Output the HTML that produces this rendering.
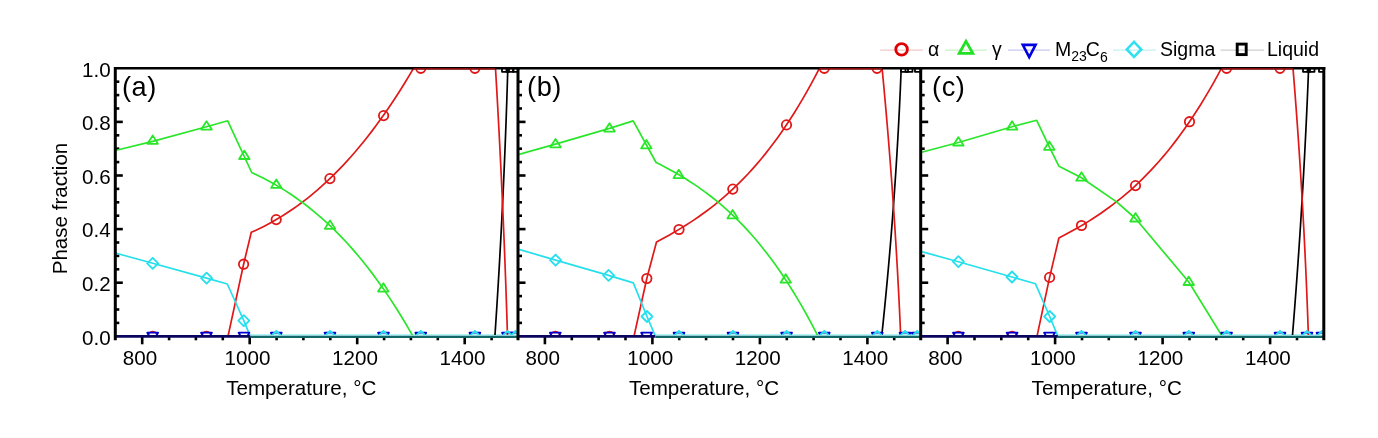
<!DOCTYPE html><html><head><meta charset="utf-8"><title>Phase fraction</title><style>html,body{margin:0;padding:0;background:#fff;width:1378px;height:438px;overflow:hidden}svg{display:block;filter:blur(0.3px)}text{font-family:"Liberation Sans",sans-serif;fill:#000}</style></head><body>
<svg width="1378" height="438" viewBox="0 0 1378 438">
<rect width="1378" height="438" fill="#fff"/>
<defs>
<clipPath id="cpa"><rect x="115.3" y="68.3" width="403.1" height="266.7"/></clipPath>
<clipPath id="cpb"><rect x="518.0" y="68.3" width="403.1" height="266.7"/></clipPath>
<clipPath id="cpc"><rect x="920.7" y="68.3" width="403.1" height="266.7"/></clipPath>
</defs>
<line x1="142.2" y1="336.3" x2="142.2" y2="344.3" stroke="#000" stroke-width="2.6"/>
<line x1="169.1" y1="336.3" x2="169.1" y2="340.3" stroke="#000" stroke-width="2.6"/>
<line x1="195.9" y1="336.3" x2="195.9" y2="340.3" stroke="#000" stroke-width="2.6"/>
<line x1="222.8" y1="336.3" x2="222.8" y2="340.3" stroke="#000" stroke-width="2.6"/>
<line x1="249.7" y1="336.3" x2="249.7" y2="344.3" stroke="#000" stroke-width="2.6"/>
<line x1="276.6" y1="336.3" x2="276.6" y2="340.3" stroke="#000" stroke-width="2.6"/>
<line x1="303.4" y1="336.3" x2="303.4" y2="340.3" stroke="#000" stroke-width="2.6"/>
<line x1="330.3" y1="336.3" x2="330.3" y2="340.3" stroke="#000" stroke-width="2.6"/>
<line x1="357.2" y1="336.3" x2="357.2" y2="344.3" stroke="#000" stroke-width="2.6"/>
<line x1="384.1" y1="336.3" x2="384.1" y2="340.3" stroke="#000" stroke-width="2.6"/>
<line x1="410.9" y1="336.3" x2="410.9" y2="340.3" stroke="#000" stroke-width="2.6"/>
<line x1="437.8" y1="336.3" x2="437.8" y2="340.3" stroke="#000" stroke-width="2.6"/>
<line x1="464.7" y1="336.3" x2="464.7" y2="344.3" stroke="#000" stroke-width="2.6"/>
<line x1="491.6" y1="336.3" x2="491.6" y2="340.3" stroke="#000" stroke-width="2.6"/>
<line x1="115.3" y1="322.9" x2="119.3" y2="322.9" stroke="#000" stroke-width="2.6"/>
<line x1="115.3" y1="309.5" x2="119.3" y2="309.5" stroke="#000" stroke-width="2.6"/>
<line x1="115.3" y1="296.1" x2="119.3" y2="296.1" stroke="#000" stroke-width="2.6"/>
<line x1="115.3" y1="282.7" x2="122.8" y2="282.7" stroke="#000" stroke-width="2.6"/>
<line x1="115.3" y1="269.3" x2="119.3" y2="269.3" stroke="#000" stroke-width="2.6"/>
<line x1="115.3" y1="255.9" x2="119.3" y2="255.9" stroke="#000" stroke-width="2.6"/>
<line x1="115.3" y1="242.5" x2="119.3" y2="242.5" stroke="#000" stroke-width="2.6"/>
<line x1="115.3" y1="229.1" x2="122.8" y2="229.1" stroke="#000" stroke-width="2.6"/>
<line x1="115.3" y1="215.7" x2="119.3" y2="215.7" stroke="#000" stroke-width="2.6"/>
<line x1="115.3" y1="202.3" x2="119.3" y2="202.3" stroke="#000" stroke-width="2.6"/>
<line x1="115.3" y1="188.9" x2="119.3" y2="188.9" stroke="#000" stroke-width="2.6"/>
<line x1="115.3" y1="175.5" x2="122.8" y2="175.5" stroke="#000" stroke-width="2.6"/>
<line x1="115.3" y1="162.1" x2="119.3" y2="162.1" stroke="#000" stroke-width="2.6"/>
<line x1="115.3" y1="148.7" x2="119.3" y2="148.7" stroke="#000" stroke-width="2.6"/>
<line x1="115.3" y1="135.3" x2="119.3" y2="135.3" stroke="#000" stroke-width="2.6"/>
<line x1="115.3" y1="121.9" x2="122.8" y2="121.9" stroke="#000" stroke-width="2.6"/>
<line x1="115.3" y1="108.5" x2="119.3" y2="108.5" stroke="#000" stroke-width="2.6"/>
<line x1="115.3" y1="95.1" x2="119.3" y2="95.1" stroke="#000" stroke-width="2.6"/>
<line x1="115.3" y1="81.7" x2="119.3" y2="81.7" stroke="#000" stroke-width="2.6"/>
<line x1="115.3" y1="336.3" x2="250.3" y2="336.3" stroke="#0a0660" stroke-width="2.8"/>
<line x1="250.3" y1="336.7" x2="518.4" y2="336.7" stroke="#126868" stroke-width="2.4"/>
<line x1="250.3" y1="334.8" x2="518.4" y2="334.8" stroke="#9aeef2" stroke-width="1.3"/>
<g clip-path="url(#cpa)" fill="none" stroke-linejoin="round">
<polyline points="100.00,336.30 494.90,336.30 495.36,329.43 495.81,322.56 496.26,315.68 496.70,308.81 497.13,301.94 497.56,295.07 497.98,288.20 498.39,281.33 498.80,274.45 499.20,267.58 499.59,260.71 499.97,253.84 500.35,246.97 500.72,240.09 501.09,233.22 501.45,226.35 501.80,219.48 502.14,212.61 502.48,205.74 502.81,198.86 503.14,191.99 503.45,185.12 503.76,178.25 504.07,171.38 504.36,164.51 504.65,157.63 504.94,150.76 505.21,143.89 505.48,137.02 505.74,130.15 506.00,123.27 506.25,116.40 506.49,109.53 506.73,102.66 506.95,95.79 507.18,88.92 507.39,82.04 507.60,75.17 507.80,68.30 520.00,68.30" stroke="#000000" stroke-width="1.7" fill="none"/>
<polyline points="100.00,336.30 228.00,336.30 243.60,264.20 251.30,232.30 255.46,230.43 259.62,228.46 263.78,226.40 267.94,224.23 272.09,221.97 276.25,219.59 280.41,217.11 284.57,214.52 288.73,211.82 292.89,209.01 297.05,206.08 301.21,203.03 305.37,199.87 309.53,196.58 313.68,193.16 317.84,189.62 322.00,185.96 326.16,182.16 330.32,178.22 334.48,174.16 338.64,169.95 342.80,165.61 346.96,161.12 351.12,156.49 355.27,151.71 359.43,146.79 363.59,141.72 367.75,136.49 371.91,131.11 376.07,125.57 380.23,119.87 384.39,114.01 388.55,107.99 392.71,101.80 396.86,95.44 401.02,88.92 405.18,82.22 409.34,75.35 413.50,68.30 495.50,68.30 495.90,75.17 496.30,82.04 496.70,88.92 497.09,95.79 497.47,102.66 497.85,109.53 498.22,116.40 498.59,123.27 498.96,130.15 499.32,137.02 499.67,143.89 500.02,150.76 500.36,157.63 500.70,164.51 501.03,171.38 501.36,178.25 501.68,185.12 502.00,191.99 502.31,198.86 502.62,205.74 502.92,212.61 503.22,219.48 503.51,226.35 503.80,233.22 504.08,240.09 504.36,246.97 504.63,253.84 504.90,260.71 505.16,267.58 505.42,274.45 505.67,281.33 505.92,288.20 506.16,295.07 506.39,301.94 506.63,308.81 506.85,315.68 507.07,322.56 507.29,329.43 507.50,336.30 520.00,336.30" stroke="#e01818" stroke-width="1.7" fill="none"/>
<polyline points="100.00,154.00 115.30,150.50 152.70,141.30 206.50,126.80 227.70,120.80 251.70,172.50 255.84,174.44 259.97,176.46 264.11,178.56 268.24,180.74 272.38,183.02 276.52,185.38 280.65,187.84 284.79,190.40 288.92,193.06 293.06,195.83 297.19,198.70 301.33,201.68 305.47,204.78 309.60,208.00 313.74,211.34 317.87,214.80 322.01,218.39 326.15,222.11 330.28,225.96 334.42,229.96 338.55,234.09 342.69,238.37 346.83,242.79 350.96,247.37 355.10,252.10 359.23,256.98 363.37,262.03 367.51,267.24 371.64,272.62 375.78,278.17 379.91,283.89 384.05,289.79 388.18,295.86 392.32,302.13 396.46,308.57 400.59,315.21 404.73,322.04 408.86,329.07 413.00,336.30 520.00,336.30" stroke="#2ae62a" stroke-width="1.7" fill="none"/>
<polyline points="100.00,250.00 115.30,253.00 152.70,263.30 206.60,278.10 227.30,284.00 235.00,301.00 243.80,320.60 250.30,336.30 520.00,336.30" stroke="#26dfec" stroke-width="1.7" fill="none"/>
<rect x="502.0" y="64.8" width="7" height="7" fill="none" stroke="#000000" stroke-width="1.8"/>
<rect x="506.5" y="64.8" width="7" height="7" fill="none" stroke="#000000" stroke-width="1.8"/>
<rect x="513.0" y="64.8" width="7" height="7" fill="none" stroke="#000000" stroke-width="1.8"/>
<circle cx="243.6" cy="264.2" r="4.7" fill="none" stroke="#e01818" stroke-width="1.8"/>
<circle cx="276.2" cy="219.6" r="4.7" fill="none" stroke="#e01818" stroke-width="1.8"/>
<circle cx="329.9" cy="178.6" r="4.7" fill="none" stroke="#e01818" stroke-width="1.8"/>
<circle cx="383.6" cy="115.6" r="4.7" fill="none" stroke="#e01818" stroke-width="1.8"/>
<circle cx="420.8" cy="68.3" r="4.7" fill="none" stroke="#e01818" stroke-width="1.8"/>
<circle cx="474.9" cy="68.3" r="4.7" fill="none" stroke="#e01818" stroke-width="1.8"/>
<circle cx="152.7" cy="336.3" r="4.7" fill="none" stroke="#e01818" stroke-width="1.8"/>
<circle cx="206.5" cy="336.3" r="4.7" fill="none" stroke="#e01818" stroke-width="1.8"/>
<polygon points="152.7,135.4 147.4,143.8 157.9,143.8" fill="none" stroke="#2ae62a" stroke-width="1.8"/>
<polygon points="206.5,121.2 201.2,129.6 211.8,129.6" fill="none" stroke="#2ae62a" stroke-width="1.8"/>
<polygon points="244.3,150.6 239.1,159.0 249.6,159.0" fill="none" stroke="#2ae62a" stroke-width="1.8"/>
<polygon points="276.3,179.5 271.1,187.9 281.6,187.9" fill="none" stroke="#2ae62a" stroke-width="1.8"/>
<polygon points="330.0,220.4 324.8,228.8 335.2,228.8" fill="none" stroke="#2ae62a" stroke-width="1.8"/>
<polygon points="383.4,283.2 378.1,291.6 388.6,291.6" fill="none" stroke="#2ae62a" stroke-width="1.8"/>
<polygon points="147.3,332.7 158.1,332.7 152.7,341.7" fill="none" stroke="#0000d0" stroke-width="1.8"/>
<polygon points="201.1,332.7 211.9,332.7 206.5,341.7" fill="none" stroke="#0000d0" stroke-width="1.8"/>
<polygon points="238.6,332.7 249.4,332.7 244.0,341.7" fill="none" stroke="#0000d0" stroke-width="1.8"/>
<polygon points="270.9,332.7 281.7,332.7 276.3,341.7" fill="none" stroke="#0000d0" stroke-width="1.8"/>
<polygon points="324.6,332.7 335.4,332.7 330.0,341.7" fill="none" stroke="#0000d0" stroke-width="1.8"/>
<polygon points="378.1,332.7 388.9,332.7 383.5,341.7" fill="none" stroke="#0000d0" stroke-width="1.8"/>
<polygon points="415.4,332.7 426.2,332.7 420.8,341.7" fill="none" stroke="#0000d0" stroke-width="1.8"/>
<polygon points="469.5,332.7 480.3,332.7 474.9,341.7" fill="none" stroke="#0000d0" stroke-width="1.8"/>
<polygon points="502.1,332.7 512.9,332.7 507.5,341.7" fill="none" stroke="#0000d0" stroke-width="1.8"/>
<polygon points="510.2,332.7 521.0,332.7 515.6,341.7" fill="none" stroke="#0000d0" stroke-width="1.8"/>
<polygon points="152.7,257.8 158.2,263.3 152.7,268.8 147.2,263.3" fill="none" stroke="#26dfec" stroke-width="1.8"/>
<polygon points="206.6,272.6 212.1,278.1 206.6,283.6 201.1,278.1" fill="none" stroke="#26dfec" stroke-width="1.8"/>
<polygon points="243.8,315.1 249.3,320.6 243.8,326.1 238.3,320.6" fill="none" stroke="#26dfec" stroke-width="1.8"/>
<polygon points="276.3,330.8 281.8,336.3 276.3,341.8 270.8,336.3" fill="none" stroke="#26dfec" stroke-width="1.8"/>
<polygon points="330.0,330.8 335.5,336.3 330.0,341.8 324.5,336.3" fill="none" stroke="#26dfec" stroke-width="1.8"/>
<polygon points="383.5,330.8 389.0,336.3 383.5,341.8 378.0,336.3" fill="none" stroke="#26dfec" stroke-width="1.8"/>
<polygon points="420.8,330.8 426.3,336.3 420.8,341.8 415.3,336.3" fill="none" stroke="#26dfec" stroke-width="1.8"/>
<polygon points="474.9,330.8 480.4,336.3 474.9,341.8 469.4,336.3" fill="none" stroke="#26dfec" stroke-width="1.8"/>
<polygon points="507.5,330.8 513.0,336.3 507.5,341.8 502.0,336.3" fill="none" stroke="#26dfec" stroke-width="1.8"/>
<polygon points="515.6,330.8 521.1,336.3 515.6,341.8 510.1,336.3" fill="none" stroke="#26dfec" stroke-width="1.8"/>
</g>
<line x1="115.3" y1="67.1" x2="115.3" y2="340.3" stroke="#000" stroke-width="3"/>
<line x1="115.3" y1="68.3" x2="519.9" y2="68.3" stroke="#000" stroke-width="2.5"/>
<line x1="413.5" y1="68.89999999999999" x2="495.5" y2="68.89999999999999" stroke="#b81212" stroke-width="1.4"/>
<text x="140.0" y="365.2" font-size="20.6" text-anchor="middle">800</text>
<text x="247.5" y="365.2" font-size="20.6" text-anchor="middle">1000</text>
<text x="355.0" y="365.2" font-size="20.6" text-anchor="middle">1200</text>
<text x="462.5" y="365.2" font-size="20.6" text-anchor="middle">1400</text>
<text x="301.3" y="394.5" font-size="20.6" text-anchor="middle">Temperature, °C</text>
<text x="122.0" y="96" font-size="27.2" letter-spacing="0.5">(a)</text>
<line x1="544.9" y1="336.3" x2="544.9" y2="344.3" stroke="#000" stroke-width="2.6"/>
<line x1="571.8" y1="336.3" x2="571.8" y2="340.3" stroke="#000" stroke-width="2.6"/>
<line x1="598.6" y1="336.3" x2="598.6" y2="340.3" stroke="#000" stroke-width="2.6"/>
<line x1="625.5" y1="336.3" x2="625.5" y2="340.3" stroke="#000" stroke-width="2.6"/>
<line x1="652.4" y1="336.3" x2="652.4" y2="344.3" stroke="#000" stroke-width="2.6"/>
<line x1="679.2" y1="336.3" x2="679.2" y2="340.3" stroke="#000" stroke-width="2.6"/>
<line x1="706.1" y1="336.3" x2="706.1" y2="340.3" stroke="#000" stroke-width="2.6"/>
<line x1="733.0" y1="336.3" x2="733.0" y2="340.3" stroke="#000" stroke-width="2.6"/>
<line x1="759.9" y1="336.3" x2="759.9" y2="344.3" stroke="#000" stroke-width="2.6"/>
<line x1="786.8" y1="336.3" x2="786.8" y2="340.3" stroke="#000" stroke-width="2.6"/>
<line x1="813.6" y1="336.3" x2="813.6" y2="340.3" stroke="#000" stroke-width="2.6"/>
<line x1="840.5" y1="336.3" x2="840.5" y2="340.3" stroke="#000" stroke-width="2.6"/>
<line x1="867.4" y1="336.3" x2="867.4" y2="344.3" stroke="#000" stroke-width="2.6"/>
<line x1="894.2" y1="336.3" x2="894.2" y2="340.3" stroke="#000" stroke-width="2.6"/>
<line x1="518.0" y1="322.9" x2="522.0" y2="322.9" stroke="#000" stroke-width="2.6"/>
<line x1="518.0" y1="309.5" x2="522.0" y2="309.5" stroke="#000" stroke-width="2.6"/>
<line x1="518.0" y1="296.1" x2="522.0" y2="296.1" stroke="#000" stroke-width="2.6"/>
<line x1="518.0" y1="282.7" x2="525.5" y2="282.7" stroke="#000" stroke-width="2.6"/>
<line x1="518.0" y1="269.3" x2="522.0" y2="269.3" stroke="#000" stroke-width="2.6"/>
<line x1="518.0" y1="255.9" x2="522.0" y2="255.9" stroke="#000" stroke-width="2.6"/>
<line x1="518.0" y1="242.5" x2="522.0" y2="242.5" stroke="#000" stroke-width="2.6"/>
<line x1="518.0" y1="229.1" x2="525.5" y2="229.1" stroke="#000" stroke-width="2.6"/>
<line x1="518.0" y1="215.7" x2="522.0" y2="215.7" stroke="#000" stroke-width="2.6"/>
<line x1="518.0" y1="202.3" x2="522.0" y2="202.3" stroke="#000" stroke-width="2.6"/>
<line x1="518.0" y1="188.9" x2="522.0" y2="188.9" stroke="#000" stroke-width="2.6"/>
<line x1="518.0" y1="175.5" x2="525.5" y2="175.5" stroke="#000" stroke-width="2.6"/>
<line x1="518.0" y1="162.1" x2="522.0" y2="162.1" stroke="#000" stroke-width="2.6"/>
<line x1="518.0" y1="148.7" x2="522.0" y2="148.7" stroke="#000" stroke-width="2.6"/>
<line x1="518.0" y1="135.3" x2="522.0" y2="135.3" stroke="#000" stroke-width="2.6"/>
<line x1="518.0" y1="121.9" x2="525.5" y2="121.9" stroke="#000" stroke-width="2.6"/>
<line x1="518.0" y1="108.5" x2="522.0" y2="108.5" stroke="#000" stroke-width="2.6"/>
<line x1="518.0" y1="95.1" x2="522.0" y2="95.1" stroke="#000" stroke-width="2.6"/>
<line x1="518.0" y1="81.7" x2="522.0" y2="81.7" stroke="#000" stroke-width="2.6"/>
<line x1="518.0" y1="336.3" x2="655.4" y2="336.3" stroke="#0a0660" stroke-width="2.8"/>
<line x1="655.4" y1="336.7" x2="921.1" y2="336.7" stroke="#126868" stroke-width="2.4"/>
<line x1="655.4" y1="334.8" x2="921.1" y2="334.8" stroke="#9aeef2" stroke-width="1.3"/>
<g clip-path="url(#cpb)" fill="none" stroke-linejoin="round">
<polyline points="500.00,336.30 881.70,336.30 882.42,329.43 883.14,322.56 883.84,315.68 884.53,308.81 885.20,301.94 885.87,295.07 886.52,288.20 887.17,281.33 887.80,274.45 888.41,267.58 889.02,260.71 889.61,253.84 890.20,246.97 890.77,240.09 891.33,233.22 891.87,226.35 892.41,219.48 892.93,212.61 893.45,205.74 893.95,198.86 894.43,191.99 894.91,185.12 895.37,178.25 895.83,171.38 896.27,164.51 896.70,157.63 897.11,150.76 897.52,143.89 897.91,137.02 898.30,130.15 898.67,123.27 899.02,116.40 899.37,109.53 899.70,102.66 900.03,95.79 900.34,88.92 900.64,82.04 900.92,75.17 901.20,68.30 930.00,68.30" stroke="#000000" stroke-width="1.7" fill="none"/>
<polyline points="500.00,336.30 634.00,336.30 646.80,278.50 656.50,242.00 660.68,239.78 664.85,237.51 669.03,235.19 673.21,232.81 677.38,230.37 681.56,227.86 685.74,225.27 689.92,222.60 694.09,219.84 698.27,216.99 702.45,214.05 706.62,210.99 710.80,207.83 714.98,204.55 719.15,201.16 723.33,197.63 727.51,193.97 731.68,190.17 735.86,186.23 740.04,182.14 744.22,177.89 748.39,173.49 752.57,168.91 756.75,164.16 760.92,159.23 765.10,154.12 769.28,148.82 773.45,143.33 777.63,137.63 781.81,131.72 785.98,125.60 790.16,119.26 794.34,112.70 798.52,105.91 802.69,98.88 806.87,91.61 811.05,84.10 815.22,76.33 819.40,68.30 882.10,68.30 882.75,75.17 883.40,82.04 884.04,88.92 884.66,95.79 885.28,102.66 885.89,109.53 886.49,116.40 887.08,123.27 887.66,130.15 888.23,137.02 888.79,143.89 889.34,150.76 889.88,157.63 890.41,164.51 890.94,171.38 891.45,178.25 891.96,185.12 892.45,191.99 892.94,198.86 893.42,205.74 893.88,212.61 894.34,219.48 894.79,226.35 895.23,233.22 895.66,240.09 896.08,246.97 896.49,253.84 896.89,260.71 897.29,267.58 897.67,274.45 898.04,281.33 898.41,288.20 898.76,295.07 899.11,301.94 899.45,308.81 899.77,315.68 900.09,322.56 900.40,329.43 900.70,336.30 930.00,336.30" stroke="#e01818" stroke-width="1.7" fill="none"/>
<polyline points="500.00,160.00 518.00,154.70 555.50,144.10 609.50,128.40 633.20,120.90 656.10,162.50 660.25,164.60 664.40,166.75 668.55,168.96 672.71,171.25 676.86,173.60 681.01,176.04 685.16,178.56 689.31,181.16 693.46,183.87 697.61,186.67 701.76,189.58 705.92,192.60 710.07,195.74 714.22,199.00 718.37,202.39 722.52,205.91 726.67,209.57 730.82,213.38 734.97,217.33 739.13,221.44 743.28,225.71 747.43,230.15 751.58,234.76 755.73,239.54 759.88,244.51 764.03,249.67 768.18,255.02 772.34,260.57 776.49,266.32 780.64,272.28 784.79,278.46 788.94,284.86 793.09,291.49 797.24,298.34 801.39,305.44 805.55,312.78 809.70,320.36 813.85,328.20 818.00,336.30 930.00,336.30" stroke="#2ae62a" stroke-width="1.7" fill="none"/>
<polyline points="500.00,245.00 518.00,249.10 555.60,260.10 608.60,275.40 633.30,282.90 647.00,316.50 655.40,336.30 930.00,336.30" stroke="#26dfec" stroke-width="1.7" fill="none"/>
<rect x="901.0" y="64.8" width="7" height="7" fill="none" stroke="#000000" stroke-width="1.8"/>
<rect x="905.5" y="64.8" width="7" height="7" fill="none" stroke="#000000" stroke-width="1.8"/>
<rect x="915.0" y="64.8" width="7" height="7" fill="none" stroke="#000000" stroke-width="1.8"/>
<circle cx="646.8" cy="278.5" r="4.7" fill="none" stroke="#e01818" stroke-width="1.8"/>
<circle cx="679.0" cy="229.5" r="4.7" fill="none" stroke="#e01818" stroke-width="1.8"/>
<circle cx="732.8" cy="189.1" r="4.7" fill="none" stroke="#e01818" stroke-width="1.8"/>
<circle cx="786.5" cy="124.9" r="4.7" fill="none" stroke="#e01818" stroke-width="1.8"/>
<circle cx="824.3" cy="68.3" r="4.7" fill="none" stroke="#e01818" stroke-width="1.8"/>
<circle cx="877.0" cy="68.3" r="4.7" fill="none" stroke="#e01818" stroke-width="1.8"/>
<circle cx="555.3" cy="336.3" r="4.7" fill="none" stroke="#e01818" stroke-width="1.8"/>
<circle cx="609.5" cy="336.3" r="4.7" fill="none" stroke="#e01818" stroke-width="1.8"/>
<polygon points="555.5,138.9 550.2,147.3 560.8,147.3" fill="none" stroke="#2ae62a" stroke-width="1.8"/>
<polygon points="609.5,123.2 604.2,131.6 614.8,131.6" fill="none" stroke="#2ae62a" stroke-width="1.8"/>
<polygon points="646.4,140.0 641.1,148.4 651.6,148.4" fill="none" stroke="#2ae62a" stroke-width="1.8"/>
<polygon points="678.8,169.7 673.5,178.1 684.0,178.1" fill="none" stroke="#2ae62a" stroke-width="1.8"/>
<polygon points="732.6,210.0 727.4,218.4 737.9,218.4" fill="none" stroke="#2ae62a" stroke-width="1.8"/>
<polygon points="785.7,274.3 780.5,282.7 791.0,282.7" fill="none" stroke="#2ae62a" stroke-width="1.8"/>
<polygon points="549.9,332.7 560.7,332.7 555.3,341.7" fill="none" stroke="#0000d0" stroke-width="1.8"/>
<polygon points="604.1,332.7 614.9,332.7 609.5,341.7" fill="none" stroke="#0000d0" stroke-width="1.8"/>
<polygon points="641.2,332.7 652.0,332.7 646.6,341.7" fill="none" stroke="#0000d0" stroke-width="1.8"/>
<polygon points="673.6,332.7 684.4,332.7 679.0,341.7" fill="none" stroke="#0000d0" stroke-width="1.8"/>
<polygon points="727.6,332.7 738.4,332.7 733.0,341.7" fill="none" stroke="#0000d0" stroke-width="1.8"/>
<polygon points="781.2,332.7 792.0,332.7 786.6,341.7" fill="none" stroke="#0000d0" stroke-width="1.8"/>
<polygon points="818.9,332.7 829.7,332.7 824.3,341.7" fill="none" stroke="#0000d0" stroke-width="1.8"/>
<polygon points="871.9,332.7 882.7,332.7 877.3,341.7" fill="none" stroke="#0000d0" stroke-width="1.8"/>
<polygon points="899.6,332.7 910.4,332.7 905.0,341.7" fill="none" stroke="#0000d0" stroke-width="1.8"/>
<polygon points="911.8,332.7 922.6,332.7 917.2,341.7" fill="none" stroke="#0000d0" stroke-width="1.8"/>
<polygon points="555.6,254.6 561.1,260.1 555.6,265.6 550.1,260.1" fill="none" stroke="#26dfec" stroke-width="1.8"/>
<polygon points="608.6,269.9 614.1,275.4 608.6,280.9 603.1,275.4" fill="none" stroke="#26dfec" stroke-width="1.8"/>
<polygon points="647.0,311.0 652.5,316.5 647.0,322.0 641.5,316.5" fill="none" stroke="#26dfec" stroke-width="1.8"/>
<polygon points="679.0,330.8 684.5,336.3 679.0,341.8 673.5,336.3" fill="none" stroke="#26dfec" stroke-width="1.8"/>
<polygon points="733.0,330.8 738.5,336.3 733.0,341.8 727.5,336.3" fill="none" stroke="#26dfec" stroke-width="1.8"/>
<polygon points="786.6,330.8 792.1,336.3 786.6,341.8 781.1,336.3" fill="none" stroke="#26dfec" stroke-width="1.8"/>
<polygon points="824.3,330.8 829.8,336.3 824.3,341.8 818.8,336.3" fill="none" stroke="#26dfec" stroke-width="1.8"/>
<polygon points="877.3,330.8 882.8,336.3 877.3,341.8 871.8,336.3" fill="none" stroke="#26dfec" stroke-width="1.8"/>
<polygon points="905.0,330.8 910.5,336.3 905.0,341.8 899.5,336.3" fill="none" stroke="#26dfec" stroke-width="1.8"/>
<polygon points="917.2,330.8 922.7,336.3 917.2,341.8 911.7,336.3" fill="none" stroke="#26dfec" stroke-width="1.8"/>
</g>
<line x1="518.0" y1="67.1" x2="518.0" y2="340.3" stroke="#000" stroke-width="3"/>
<line x1="518.0" y1="68.3" x2="922.6" y2="68.3" stroke="#000" stroke-width="2.5"/>
<line x1="819.4" y1="68.89999999999999" x2="882.1" y2="68.89999999999999" stroke="#b81212" stroke-width="1.4"/>
<text x="542.7" y="365.2" font-size="20.6" text-anchor="middle">800</text>
<text x="650.2" y="365.2" font-size="20.6" text-anchor="middle">1000</text>
<text x="757.7" y="365.2" font-size="20.6" text-anchor="middle">1200</text>
<text x="865.2" y="365.2" font-size="20.6" text-anchor="middle">1400</text>
<text x="704.0" y="394.5" font-size="20.6" text-anchor="middle">Temperature, °C</text>
<text x="527.1" y="96" font-size="27.2" letter-spacing="0.5">(b)</text>
<line x1="947.6" y1="336.3" x2="947.6" y2="344.3" stroke="#000" stroke-width="2.6"/>
<line x1="974.5" y1="336.3" x2="974.5" y2="340.3" stroke="#000" stroke-width="2.6"/>
<line x1="1001.3" y1="336.3" x2="1001.3" y2="340.3" stroke="#000" stroke-width="2.6"/>
<line x1="1028.2" y1="336.3" x2="1028.2" y2="340.3" stroke="#000" stroke-width="2.6"/>
<line x1="1055.1" y1="336.3" x2="1055.1" y2="344.3" stroke="#000" stroke-width="2.6"/>
<line x1="1082.0" y1="336.3" x2="1082.0" y2="340.3" stroke="#000" stroke-width="2.6"/>
<line x1="1108.8" y1="336.3" x2="1108.8" y2="340.3" stroke="#000" stroke-width="2.6"/>
<line x1="1135.7" y1="336.3" x2="1135.7" y2="340.3" stroke="#000" stroke-width="2.6"/>
<line x1="1162.6" y1="336.3" x2="1162.6" y2="344.3" stroke="#000" stroke-width="2.6"/>
<line x1="1189.5" y1="336.3" x2="1189.5" y2="340.3" stroke="#000" stroke-width="2.6"/>
<line x1="1216.3" y1="336.3" x2="1216.3" y2="340.3" stroke="#000" stroke-width="2.6"/>
<line x1="1243.2" y1="336.3" x2="1243.2" y2="340.3" stroke="#000" stroke-width="2.6"/>
<line x1="1270.1" y1="336.3" x2="1270.1" y2="344.3" stroke="#000" stroke-width="2.6"/>
<line x1="1297.0" y1="336.3" x2="1297.0" y2="340.3" stroke="#000" stroke-width="2.6"/>
<line x1="920.7" y1="322.9" x2="924.7" y2="322.9" stroke="#000" stroke-width="2.6"/>
<line x1="920.7" y1="309.5" x2="924.7" y2="309.5" stroke="#000" stroke-width="2.6"/>
<line x1="920.7" y1="296.1" x2="924.7" y2="296.1" stroke="#000" stroke-width="2.6"/>
<line x1="920.7" y1="282.7" x2="928.2" y2="282.7" stroke="#000" stroke-width="2.6"/>
<line x1="920.7" y1="269.3" x2="924.7" y2="269.3" stroke="#000" stroke-width="2.6"/>
<line x1="920.7" y1="255.9" x2="924.7" y2="255.9" stroke="#000" stroke-width="2.6"/>
<line x1="920.7" y1="242.5" x2="924.7" y2="242.5" stroke="#000" stroke-width="2.6"/>
<line x1="920.7" y1="229.1" x2="928.2" y2="229.1" stroke="#000" stroke-width="2.6"/>
<line x1="920.7" y1="215.7" x2="924.7" y2="215.7" stroke="#000" stroke-width="2.6"/>
<line x1="920.7" y1="202.3" x2="924.7" y2="202.3" stroke="#000" stroke-width="2.6"/>
<line x1="920.7" y1="188.9" x2="924.7" y2="188.9" stroke="#000" stroke-width="2.6"/>
<line x1="920.7" y1="175.5" x2="928.2" y2="175.5" stroke="#000" stroke-width="2.6"/>
<line x1="920.7" y1="162.1" x2="924.7" y2="162.1" stroke="#000" stroke-width="2.6"/>
<line x1="920.7" y1="148.7" x2="924.7" y2="148.7" stroke="#000" stroke-width="2.6"/>
<line x1="920.7" y1="135.3" x2="924.7" y2="135.3" stroke="#000" stroke-width="2.6"/>
<line x1="920.7" y1="121.9" x2="928.2" y2="121.9" stroke="#000" stroke-width="2.6"/>
<line x1="920.7" y1="108.5" x2="924.7" y2="108.5" stroke="#000" stroke-width="2.6"/>
<line x1="920.7" y1="95.1" x2="924.7" y2="95.1" stroke="#000" stroke-width="2.6"/>
<line x1="920.7" y1="81.7" x2="924.7" y2="81.7" stroke="#000" stroke-width="2.6"/>
<line x1="920.7" y1="336.3" x2="1057.9" y2="336.3" stroke="#0a0660" stroke-width="2.8"/>
<line x1="1057.9" y1="336.7" x2="1323.8000000000002" y2="336.7" stroke="#126868" stroke-width="2.4"/>
<line x1="1057.9" y1="334.8" x2="1323.8000000000002" y2="334.8" stroke="#9aeef2" stroke-width="1.3"/>
<g clip-path="url(#cpc)" fill="none" stroke-linejoin="round">
<polyline points="900.00,336.30 1292.40,336.30 1292.96,329.43 1293.51,322.56 1294.05,315.68 1294.59,308.81 1295.12,301.94 1295.64,295.07 1296.15,288.20 1296.66,281.33 1297.16,274.45 1297.65,267.58 1298.13,260.71 1298.61,253.84 1299.08,246.97 1299.54,240.09 1299.99,233.22 1300.44,226.35 1300.87,219.48 1301.31,212.61 1301.73,205.74 1302.14,198.86 1302.55,191.99 1302.95,185.12 1303.34,178.25 1303.73,171.38 1304.11,164.51 1304.48,157.63 1304.84,150.76 1305.19,143.89 1305.54,137.02 1305.88,130.15 1306.21,123.27 1306.54,116.40 1306.86,109.53 1307.17,102.66 1307.47,95.79 1307.76,88.92 1308.05,82.04 1308.33,75.17 1308.60,68.30 1330.00,68.30" stroke="#000000" stroke-width="1.7" fill="none"/>
<polyline points="900.00,336.30 1037.00,336.30 1049.60,277.40 1058.90,238.00 1063.07,235.84 1067.23,233.62 1071.40,231.36 1075.57,229.02 1079.73,226.63 1083.90,224.16 1088.07,221.61 1092.23,218.98 1096.40,216.27 1100.57,213.46 1104.73,210.56 1108.90,207.55 1113.07,204.43 1117.23,201.20 1121.40,197.85 1125.57,194.38 1129.73,190.77 1133.90,187.04 1138.07,183.16 1142.23,179.14 1146.40,174.97 1150.57,170.64 1154.73,166.16 1158.90,161.50 1163.07,156.68 1167.23,151.68 1171.40,146.50 1175.57,141.14 1179.73,135.58 1183.90,129.82 1188.07,123.86 1192.23,117.70 1196.40,111.32 1200.57,104.73 1204.73,97.91 1208.90,90.86 1213.07,83.58 1217.23,76.06 1221.40,68.30 1293.00,68.30 1293.56,75.17 1294.11,82.04 1294.65,88.92 1295.18,95.79 1295.70,102.66 1296.22,109.53 1296.72,116.40 1297.22,123.27 1297.71,130.15 1298.19,137.02 1298.66,143.89 1299.12,150.76 1299.58,157.63 1300.03,164.51 1300.46,171.38 1300.89,178.25 1301.31,185.12 1301.73,191.99 1302.13,198.86 1302.52,205.74 1302.91,212.61 1303.29,219.48 1303.66,226.35 1304.02,233.22 1304.37,240.09 1304.71,246.97 1305.05,253.84 1305.37,260.71 1305.69,267.58 1306.00,274.45 1306.30,281.33 1306.59,288.20 1306.88,295.07 1307.15,301.94 1307.42,308.81 1307.68,315.68 1307.93,322.56 1308.17,329.43 1308.40,336.30 1330.00,336.30" stroke="#e01818" stroke-width="1.7" fill="none"/>
<polyline points="900.00,158.00 920.70,152.50 958.40,142.50 1012.10,126.70 1036.70,120.30 1049.30,146.80 1059.00,166.30 1081.50,177.70 1116.60,201.90 1135.50,218.50 1188.80,282.00 1222.20,336.30 1330.00,336.30" stroke="#2ae62a" stroke-width="1.7" fill="none"/>
<polyline points="900.00,246.00 920.70,251.40 958.40,261.70 1012.00,277.00 1035.50,283.80 1049.70,316.50 1057.90,336.30 1330.00,336.30" stroke="#26dfec" stroke-width="1.7" fill="none"/>
<rect x="1303.0" y="64.8" width="7" height="7" fill="none" stroke="#000000" stroke-width="1.8"/>
<rect x="1307.5" y="64.8" width="7" height="7" fill="none" stroke="#000000" stroke-width="1.8"/>
<rect x="1319.0" y="64.8" width="7" height="7" fill="none" stroke="#000000" stroke-width="1.8"/>
<circle cx="1049.6" cy="277.4" r="4.7" fill="none" stroke="#e01818" stroke-width="1.8"/>
<circle cx="1081.5" cy="225.5" r="4.7" fill="none" stroke="#e01818" stroke-width="1.8"/>
<circle cx="1135.5" cy="185.6" r="4.7" fill="none" stroke="#e01818" stroke-width="1.8"/>
<circle cx="1189.5" cy="121.7" r="4.7" fill="none" stroke="#e01818" stroke-width="1.8"/>
<circle cx="1226.6" cy="68.3" r="4.7" fill="none" stroke="#e01818" stroke-width="1.8"/>
<circle cx="1280.0" cy="68.3" r="4.7" fill="none" stroke="#e01818" stroke-width="1.8"/>
<circle cx="958.4" cy="336.3" r="4.7" fill="none" stroke="#e01818" stroke-width="1.8"/>
<circle cx="1012.1" cy="336.3" r="4.7" fill="none" stroke="#e01818" stroke-width="1.8"/>
<polygon points="958.4,137.1 953.1,145.5 963.6,145.5" fill="none" stroke="#2ae62a" stroke-width="1.8"/>
<polygon points="1012.1,121.3 1006.9,129.7 1017.4,129.7" fill="none" stroke="#2ae62a" stroke-width="1.8"/>
<polygon points="1049.3,141.4 1044.0,149.8 1054.5,149.8" fill="none" stroke="#2ae62a" stroke-width="1.8"/>
<polygon points="1081.5,172.3 1076.2,180.7 1086.8,180.7" fill="none" stroke="#2ae62a" stroke-width="1.8"/>
<polygon points="1135.5,213.1 1130.2,221.5 1140.8,221.5" fill="none" stroke="#2ae62a" stroke-width="1.8"/>
<polygon points="1188.8,276.6 1183.5,285.0 1194.0,285.0" fill="none" stroke="#2ae62a" stroke-width="1.8"/>
<polygon points="953.0,332.7 963.8,332.7 958.4,341.7" fill="none" stroke="#0000d0" stroke-width="1.8"/>
<polygon points="1006.7,332.7 1017.5,332.7 1012.1,341.7" fill="none" stroke="#0000d0" stroke-width="1.8"/>
<polygon points="1044.1,332.7 1054.9,332.7 1049.5,341.7" fill="none" stroke="#0000d0" stroke-width="1.8"/>
<polygon points="1076.1,332.7 1086.9,332.7 1081.5,341.7" fill="none" stroke="#0000d0" stroke-width="1.8"/>
<polygon points="1130.1,332.7 1140.9,332.7 1135.5,341.7" fill="none" stroke="#0000d0" stroke-width="1.8"/>
<polygon points="1183.4,332.7 1194.2,332.7 1188.8,341.7" fill="none" stroke="#0000d0" stroke-width="1.8"/>
<polygon points="1221.2,332.7 1232.0,332.7 1226.6,341.7" fill="none" stroke="#0000d0" stroke-width="1.8"/>
<polygon points="1274.6,332.7 1285.4,332.7 1280.0,341.7" fill="none" stroke="#0000d0" stroke-width="1.8"/>
<polygon points="1301.6,332.7 1312.4,332.7 1307.0,341.7" fill="none" stroke="#0000d0" stroke-width="1.8"/>
<polygon points="1316.6,332.7 1327.4,332.7 1322.0,341.7" fill="none" stroke="#0000d0" stroke-width="1.8"/>
<polygon points="958.4,256.2 963.9,261.7 958.4,267.2 952.9,261.7" fill="none" stroke="#26dfec" stroke-width="1.8"/>
<polygon points="1012.0,271.5 1017.5,277.0 1012.0,282.5 1006.5,277.0" fill="none" stroke="#26dfec" stroke-width="1.8"/>
<polygon points="1049.7,311.0 1055.2,316.5 1049.7,322.0 1044.2,316.5" fill="none" stroke="#26dfec" stroke-width="1.8"/>
<polygon points="1081.5,330.8 1087.0,336.3 1081.5,341.8 1076.0,336.3" fill="none" stroke="#26dfec" stroke-width="1.8"/>
<polygon points="1135.5,330.8 1141.0,336.3 1135.5,341.8 1130.0,336.3" fill="none" stroke="#26dfec" stroke-width="1.8"/>
<polygon points="1188.8,330.8 1194.3,336.3 1188.8,341.8 1183.3,336.3" fill="none" stroke="#26dfec" stroke-width="1.8"/>
<polygon points="1226.6,330.8 1232.1,336.3 1226.6,341.8 1221.1,336.3" fill="none" stroke="#26dfec" stroke-width="1.8"/>
<polygon points="1280.0,330.8 1285.5,336.3 1280.0,341.8 1274.5,336.3" fill="none" stroke="#26dfec" stroke-width="1.8"/>
<polygon points="1307.0,330.8 1312.5,336.3 1307.0,341.8 1301.5,336.3" fill="none" stroke="#26dfec" stroke-width="1.8"/>
<polygon points="1322.0,330.8 1327.5,336.3 1322.0,341.8 1316.5,336.3" fill="none" stroke="#26dfec" stroke-width="1.8"/>
</g>
<line x1="920.7" y1="67.1" x2="920.7" y2="340.3" stroke="#000" stroke-width="3"/>
<line x1="920.7" y1="68.3" x2="1325.3000000000002" y2="68.3" stroke="#000" stroke-width="2.5"/>
<line x1="1221.4" y1="68.89999999999999" x2="1293" y2="68.89999999999999" stroke="#b81212" stroke-width="1.4"/>
<text x="945.4" y="365.2" font-size="20.6" text-anchor="middle">800</text>
<text x="1052.9" y="365.2" font-size="20.6" text-anchor="middle">1000</text>
<text x="1160.4" y="365.2" font-size="20.6" text-anchor="middle">1200</text>
<text x="1267.9" y="365.2" font-size="20.6" text-anchor="middle">1400</text>
<text x="1106.7" y="394.5" font-size="20.6" text-anchor="middle">Temperature, °C</text>
<text x="932.1" y="96" font-size="27.2" letter-spacing="0.5">(c)</text>
<line x1="1323.8000000000002" y1="67.1" x2="1323.8000000000002" y2="340.3" stroke="#000" stroke-width="3"/>
<text x="110.6" y="344.5" font-size="20.6" text-anchor="end">0.0</text>
<text x="110.6" y="290.9" font-size="20.6" text-anchor="end">0.2</text>
<text x="110.6" y="237.3" font-size="20.6" text-anchor="end">0.4</text>
<text x="110.6" y="183.7" font-size="20.6" text-anchor="end">0.6</text>
<text x="110.6" y="130.1" font-size="20.6" text-anchor="end">0.8</text>
<text x="110.6" y="76.5" font-size="20.6" text-anchor="end">1.0</text>
<text transform="translate(66.5,208.5) rotate(-90)" font-size="20.6" text-anchor="middle">Phase fraction</text>
<line x1="880.2" y1="50.1" x2="922.9" y2="50.1" stroke="#f0c8c8" stroke-width="1.3"/>
<circle cx="901.6" cy="49.4" r="5.8" fill="none" stroke="#e00000" stroke-width="2.8"/>
<text x="928" y="56" font-size="19.5">α</text>
<line x1="945" y1="50.1" x2="987" y2="50.1" stroke="#c8f0c8" stroke-width="1.3"/>
<polygon points="966.0,41.3 959.2,53.3 972.8,53.3" fill="none" stroke="#22e022" stroke-width="2.8"/>
<text x="992" y="56" font-size="19.5">γ</text>
<line x1="1008" y1="50.1" x2="1050" y2="50.1" stroke="#c8c8f0" stroke-width="1.3"/>
<polygon points="1022.8,44.9 1035.6,44.9 1029.2,57.1" fill="none" stroke="#0000e0" stroke-width="2.6"/>
<text x="1055" y="56" font-size="19.5">M<tspan font-size="14" dy="5.3">23</tspan><tspan dy="-5.3" dx="-1">C</tspan><tspan font-size="14" dy="5.5">6</tspan></text>
<line x1="1113" y1="50.1" x2="1156" y2="50.1" stroke="#c0f0f4" stroke-width="1.3"/>
<polygon points="1134.0,41.9 1141.2,49.4 1134.0,56.9 1126.8,49.4" fill="none" stroke="#30e0f0" stroke-width="2.6"/>
<text x="1160" y="56" font-size="19.5">Sigma</text>
<line x1="1220.5" y1="50.1" x2="1264" y2="50.1" stroke="#d0d0d0" stroke-width="1.3"/>
<rect x="1237.2" y="44.1" width="9" height="10.5" fill="none" stroke="#000000" stroke-width="2.9"/>
<text x="1267" y="56" font-size="19.5">Liquid</text>
</svg></body></html>
